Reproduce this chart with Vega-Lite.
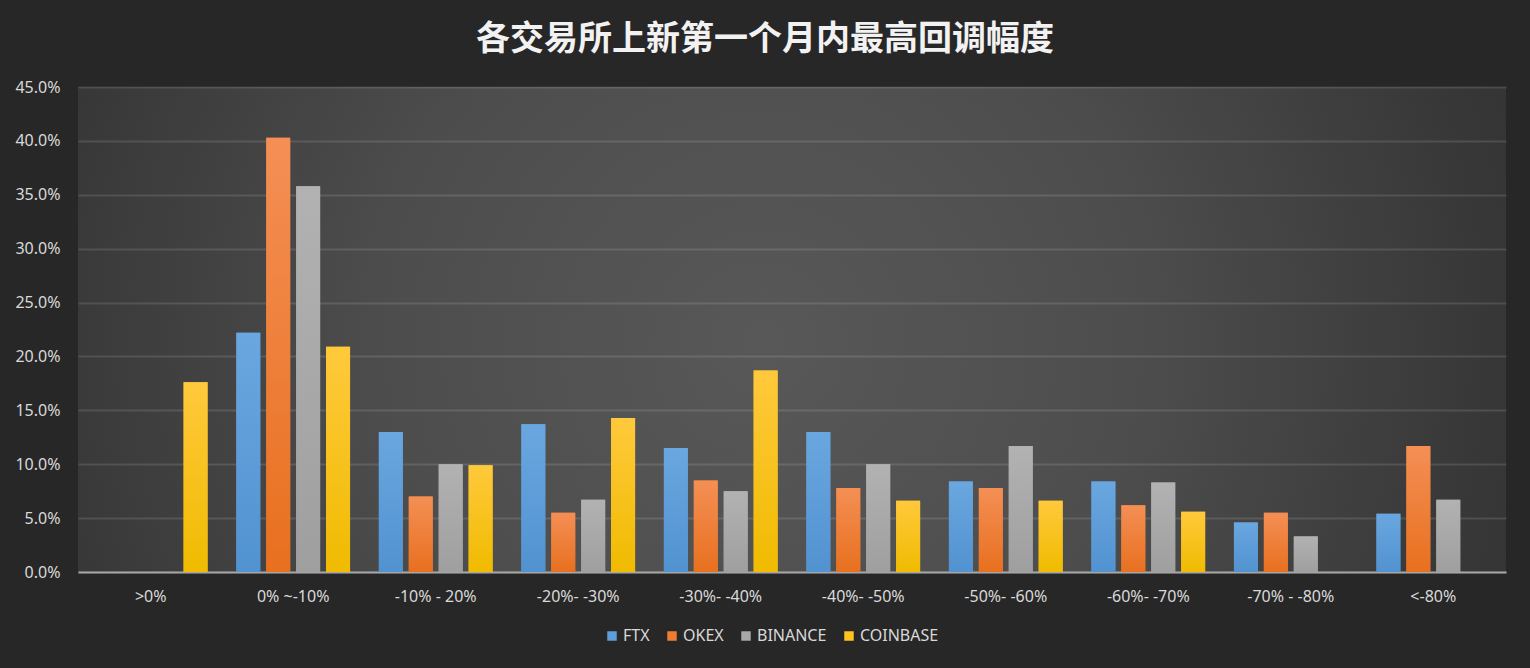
{
  "$schema": "https://vega.github.io/schema/vega-lite/v6.json",
  "autosize": {"type": "none"},
  "width": 1428,
  "height": 485,
  "padding": {"left": 78, "top": 87, "right": 24, "bottom": 96},
  "background": "#272727",
  "title": {
    "text": "各交易所上新第一个月内最高回调幅度",
    "anchor": "middle",
    "color": "#f2f2f2",
    "font": "Noto Sans CJK SC",
    "fontSize": 34,
    "fontWeight": "bold",
    "offset": 22,
    "dx": -27
  },
  "config": {
    "view": {
      "stroke": null,
      "fill": {
        "gradient": "radial",
        "x1": 0.48, "y1": 0.51, "x2": 0.48, "y2": 0.51, "r1": 0, "r2": 0.75,
        "stops": [
          {"offset": 0, "color": "#585858"},
          {"offset": 0.35, "color": "#4d4d4d"},
          {"offset": 0.7, "color": "#363636"},
          {"offset": 1, "color": "#2a2a2a"}
        ]
      }
    },
    "axis": {
      "labelFont": "Noto Sans",
      "labelFontSize": 16,
      "labelColor": "#d9d9d9",
      "titleColor": "#d9d9d9"
    },
    "legend": {
      "labelFont": "Noto Sans",
      "labelFontSize": 16,
      "labelColor": "#d9d9d9"
    }
  },
  "data": {
    "values": [
      {"range": ">0%", "exchange": "COINBASE", "value": 0.176},
      {"range": "0% ~-10%", "exchange": "FTX", "value": 0.222},
      {"range": "0% ~-10%", "exchange": "OKEX", "value": 0.403},
      {"range": "0% ~-10%", "exchange": "BINANCE", "value": 0.358},
      {"range": "0% ~-10%", "exchange": "COINBASE", "value": 0.209},
      {"range": "-10% - 20%", "exchange": "FTX", "value": 0.130},
      {"range": "-10% - 20%", "exchange": "OKEX", "value": 0.070},
      {"range": "-10% - 20%", "exchange": "BINANCE", "value": 0.100},
      {"range": "-10% - 20%", "exchange": "COINBASE", "value": 0.099},
      {"range": "-20%- -30%", "exchange": "FTX", "value": 0.137},
      {"range": "-20%- -30%", "exchange": "OKEX", "value": 0.055},
      {"range": "-20%- -30%", "exchange": "BINANCE", "value": 0.067},
      {"range": "-20%- -30%", "exchange": "COINBASE", "value": 0.143},
      {"range": "-30%- -40%", "exchange": "FTX", "value": 0.115},
      {"range": "-30%- -40%", "exchange": "OKEX", "value": 0.085},
      {"range": "-30%- -40%", "exchange": "BINANCE", "value": 0.075},
      {"range": "-30%- -40%", "exchange": "COINBASE", "value": 0.187},
      {"range": "-40%- -50%", "exchange": "FTX", "value": 0.130},
      {"range": "-40%- -50%", "exchange": "OKEX", "value": 0.078},
      {"range": "-40%- -50%", "exchange": "BINANCE", "value": 0.100},
      {"range": "-40%- -50%", "exchange": "COINBASE", "value": 0.066},
      {"range": "-50%- -60%", "exchange": "FTX", "value": 0.084},
      {"range": "-50%- -60%", "exchange": "OKEX", "value": 0.078},
      {"range": "-50%- -60%", "exchange": "BINANCE", "value": 0.117},
      {"range": "-50%- -60%", "exchange": "COINBASE", "value": 0.066},
      {"range": "-60%- -70%", "exchange": "FTX", "value": 0.084},
      {"range": "-60%- -70%", "exchange": "OKEX", "value": 0.062},
      {"range": "-60%- -70%", "exchange": "BINANCE", "value": 0.083},
      {"range": "-60%- -70%", "exchange": "COINBASE", "value": 0.056},
      {"range": "-70% - -80%", "exchange": "FTX", "value": 0.046},
      {"range": "-70% - -80%", "exchange": "OKEX", "value": 0.055},
      {"range": "-70% - -80%", "exchange": "BINANCE", "value": 0.033},
      {"range": "<-80%", "exchange": "FTX", "value": 0.054},
      {"range": "<-80%", "exchange": "OKEX", "value": 0.117},
      {"range": "<-80%", "exchange": "BINANCE", "value": 0.067}
    ]
  },
  "encoding": {
    "x": {
      "field": "range",
      "type": "nominal",
      "sort": null,
      "scale": {"paddingInner": 0.16, "paddingOuter": 0.09},
      "axis": {
        "title": null,
        "labelAngle": 0,
        "domainColor": "#a6a6a6",
        "domainWidth": 2,
        "ticks": false,
        "labelPadding": 16
      }
    },
    "xOffset": {
      "field": "exchange",
      "type": "nominal",
      "sort": ["FTX", "OKEX", "BINANCE", "COINBASE"],
      "scale": {"domain": ["FTX", "OKEX", "BINANCE", "COINBASE"], "paddingInner": 0.2, "paddingOuter": 0.1}
    },
    "y": {
      "field": "value",
      "type": "quantitative",
      "scale": {"domain": [0, 0.45]},
      "axis": {
        "title": null,
        "format": ".1%",
        "values": [0, 0.05, 0.1, 0.15, 0.2, 0.25, 0.3, 0.35, 0.4, 0.45],
        "domain": false,
        "ticks": false,
        "labelPadding": 18,
        "gridColor": "#ffffff",
        "gridOpacity": 0.12,
        "gridWidth": 2
      }
    }
  },
  "layer": [
    {
      "mark": {"type": "bar"},
      "encoding": {
        "color": {
          "field": "exchange",
          "type": "nominal",
          "sort": ["FTX", "OKEX", "BINANCE", "COINBASE"],
          "scale": {
            "domain": ["FTX", "OKEX", "BINANCE", "COINBASE"],
            "range": ["#5e9dd8", "#ee7d32", "#a8a8a8", "#ffc21f"]
          },
          "legend": {
            "title": null,
            "orient": "none",
            "legendX": 526,
            "legendY": 541,
            "direction": "horizontal",
            "symbolType": "square",
            "symbolSize": 90,
            "symbolStrokeWidth": 0,
            "columnPadding": 14,
            "labelOffset": 3
          }
        }
      }
    },
    {
      "transform": [{"filter": "datum.exchange === 'FTX'"}],
      "mark": {"type": "bar", "color": {"gradient": "linear", "x1": 0, "y1": 0, "x2": 0, "y2": 1,
        "stops": [{"offset": 0, "color": "#6aa7e0"}, {"offset": 1, "color": "#5192d0"}]}}
    },
    {
      "transform": [{"filter": "datum.exchange === 'OKEX'"}],
      "mark": {"type": "bar", "color": {"gradient": "linear", "x1": 0, "y1": 0, "x2": 0, "y2": 1,
        "stops": [{"offset": 0, "color": "#f48f55"}, {"offset": 1, "color": "#e8701f"}]}}
    },
    {
      "transform": [{"filter": "datum.exchange === 'BINANCE'"}],
      "mark": {"type": "bar", "color": {"gradient": "linear", "x1": 0, "y1": 0, "x2": 0, "y2": 1,
        "stops": [{"offset": 0, "color": "#b2b2b2"}, {"offset": 1, "color": "#9f9f9f"}]}}
    },
    {
      "transform": [{"filter": "datum.exchange === 'COINBASE'"}],
      "mark": {"type": "bar", "color": {"gradient": "linear", "x1": 0, "y1": 0, "x2": 0, "y2": 1,
        "stops": [{"offset": 0, "color": "#ffc93c"}, {"offset": 1, "color": "#f0bb00"}]}}
    }
  ]
}
